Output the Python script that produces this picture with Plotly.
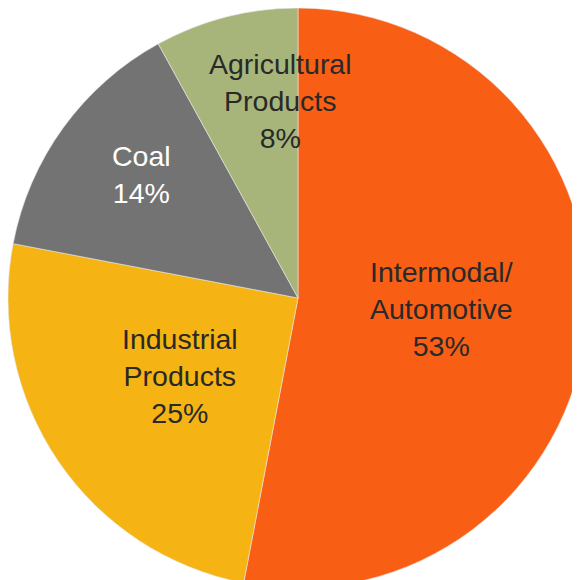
import plotly.graph_objects as go

labels = ["Intermodal/<br>Automotive", "Industrial<br>Products", "Coal", "Agricultural<br>Products"]
values = [53, 25, 14, 8]
colors = ["#F95E15", "#F5B314", "#737373", "#A7B57A"]
text_colors = ["#292929", "#292929", "#FFFFFF", "#292929"]

# label anchor positions (paper fraction), one per slice
label_x = [0.7466, 0.2966, 0.231, 0.469]
label_y = [0.4810, 0.3655, 0.7135, 0.8390]

fig = go.Figure(go.Pie(
    labels=labels,
    values=values,
    sort=False,
    direction="clockwise",
    rotation=0,
    marker=dict(colors=colors, line=dict(color="#E8E8E8", width=0.6)),
    textinfo="none",
    hoverinfo="label+percent",
    showlegend=False,
))

total = sum(values)
for lab, v, c, x, y in zip(labels, values, text_colors, label_x, label_y):
    fig.add_annotation(
        x=x, y=y, xref="paper", yref="paper",
        xanchor="center", yanchor="middle",
        text=f"{lab}<br>{round(100 * v / total)}%",
        showarrow=False,
        align="center",
        font=dict(family="Liberation Sans, Arial, sans-serif", size=28.5, color=c),
    )

fig.update_layout(
    width=580, height=580,
    margin=dict(l=0, r=0, t=0, b=0),
    paper_bgcolor="white",
    plot_bgcolor="white",
)

fig.write_html("out.html")
